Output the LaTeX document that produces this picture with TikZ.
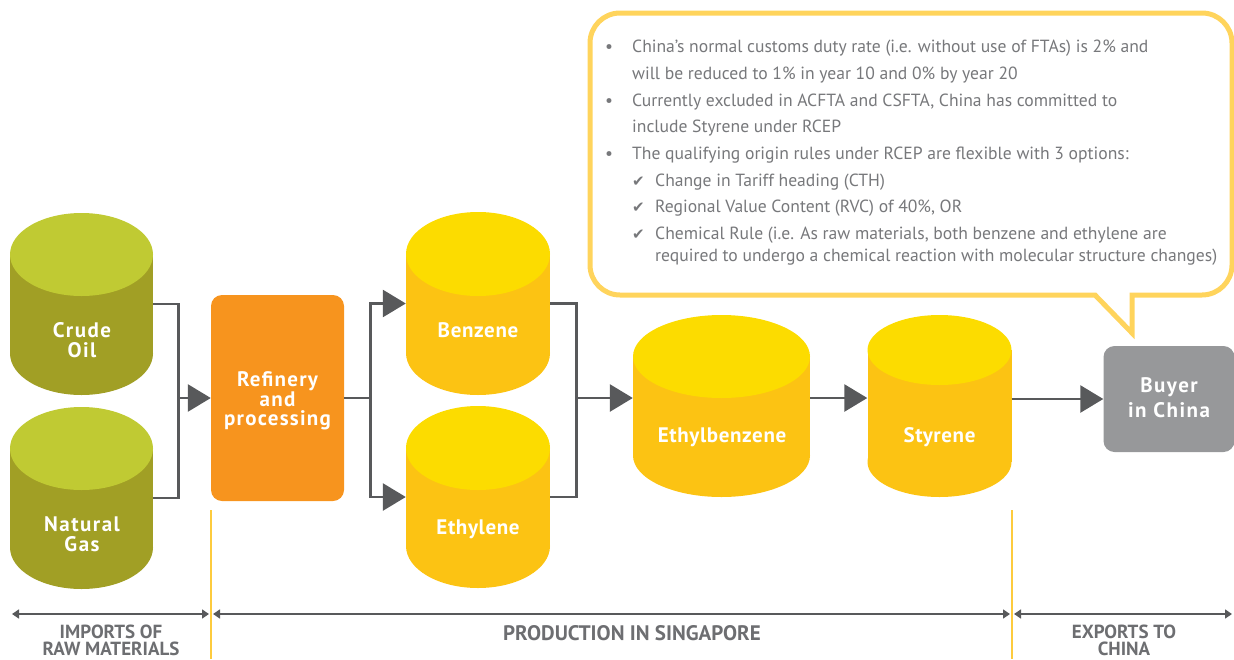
\documentclass[tikz,border=0pt]{standalone}
\usepackage{fontspec}
\setmainfont{PT Sans}
\newfontfamily\dejavu{DejaVu Sans}
\usetikzlibrary{arrows.meta}
\definecolor{olivetop}{HTML}{C0CA33}
\definecolor{olivebody}{HTML}{A19F25}
\definecolor{ytop}{HTML}{FCDC00}
\definecolor{ybody}{HTML}{FCC313}
\definecolor{orng}{HTML}{F7941E}
\definecolor{gbox}{HTML}{97989A}
\definecolor{dgray}{HTML}{58595B}
\definecolor{bub}{HTML}{FFD45C}
\definecolor{txtgray}{HTML}{77787B}
\definecolor{lblgray}{HTML}{6D6E71}
\definecolor{vline}{HTML}{FDCB3E}
\newcommand\mycyl[8]{%
  \fill[#8] ({#2-#5},{#3+#6}) rectangle ({#2+#5},{#4-#6});
  \fill[#8] (#2,{#4-#6}) ellipse [x radius=#5pt, y radius=#6pt];
  \fill[#7] (#2,{#3+#6}) ellipse [x radius=#5pt, y radius=#6pt];
  \node[inner sep=0pt, minimum width=2*#5pt, minimum height=#4pt-#3pt] (#1) at (#2,{(#3+#4)/2}) {};
}
\tikzset{
  clabel/.style={text=white, align=center, inner sep=0pt, font=\fontsize{21}{20}\selectfont\bfseries\addfontfeature{LetterSpace=7}},
  plabel/.style={text=white, align=center, inner sep=0pt, font=\fontsize{21}{21}\selectfont\bfseries\addfontfeature{LetterSpace=3}},
  conn/.style={draw=dgray, line width=2.8pt},
  bigarrow/.style={conn, -{Triangle[length=23pt,width=27pt]}},
  btxt/.style={anchor=base west, inner sep=0pt, text=txtgray, font=\fontsize{17.6}{17.6}\selectfont},
  chk/.style={anchor=base west, inner sep=0pt, text=txtgray, font=\dejavu\fontsize{15}{15}\selectfont},
  bottomarrow/.style={draw=dgray, line width=1.5pt, {Triangle[length=7pt,width=9pt]}-{Triangle[length=7pt,width=9pt]}},
  blabel/.style={anchor=base, text=lblgray, inner sep=0pt, text height=13pt, text depth=0pt, font=\fontsize{19}{17}\selectfont\bfseries},
  vsep/.style={draw=vline, line width=1.3pt}
}
\begin{document}
\begin{tikzpicture}[x=1pt,y=-1pt]
\useasboundingbox (0,0) rectangle (1234,659);
% speech bubble
\draw[draw=bub, line width=5pt, line join=miter, fill=white]
  (1180,295) [rounded corners=30pt] -- (1232,295) -- (1232,13) -- (590,13) -- (590,295)
  [sharp corners] -- (1095,295) -- (1132,333) -- (1132,295) -- cycle;
% bubble text
\node[btxt] (b1) at (605,52) {•};
\node[btxt] (t1) at (632,52) {China’s normal customs duty rate (i.e. without use of FTAs) is 2\% and};
\node[btxt] (t2) at (632,79) {will be reduced to 1\% in year 10 and 0\% by year 20};
\node[btxt] (b2) at (605,106) {•};
\node[btxt] (t3) at (632,106) {Currently excluded in ACFTA and CSFTA, China has committed to};
\node[btxt] (t4) at (632,132) {include Styrene under RCEP};
\node[btxt] (b3) at (605,159) {•};
\node[btxt] (t5) at (632,159) {The qualifying origin rules under RCEP are flexible with 3 options:};
\node[chk] (c1) at (632,186) {✔};
\node[btxt] (t6) at (655,186) {Change in Tariff heading (CTH)};
\node[chk] (c2) at (632,212) {✔};
\node[btxt] (t7) at (655,212) {Regional Value Content (RVC) of 40\%, OR};
\node[chk] (c3) at (632,239) {✔};
\node[btxt] (t8) at (655,239) {Chemical Rule (i.e. As raw materials, both benzene and ethylene are};
\node[btxt] (t9) at (655,261) {required to undergo a chemical reaction with molecular structure changes)};
% cylinders
\mycyl{crude}{81.5}{213}{395}{71.5}{41.5}{olivetop}{olivebody}
\mycyl{gas}{81.5}{407}{589}{71.5}{41.5}{olivetop}{olivebody}
\mycyl{benz}{478}{212}{395}{72}{42}{ytop}{ybody}
\mycyl{ethy}{478}{406}{588}{72}{42}{ytop}{ybody}
\mycyl{ebz}{721.5}{315}{497}{88.5}{41.5}{ytop}{ybody}
\mycyl{sty}{939.5}{315}{497}{72}{35}{ytop}{ybody}
\node[clabel] (lcrude) at (82,340) {Crude\\Oil};
\node[clabel] (lgas) at (82,534.5) {Natural\\Gas};
\node[plabel] (lbenz) at (478,330) {Benzene};
\node[plabel] (lethy) at (478,529) {Ethylene};
\node[plabel] (lebz) at (722,437) {Ethylbenzene};
\node[plabel] (lsty) at (939.5,437) {Styrene};
% boxes
\node[fill=orng, rounded corners=11pt, minimum width=133pt, minimum height=206pt, inner sep=0pt] (refin) at (277.5,398) {};
\node[clabel, font=\fontsize{21}{18.5}\selectfont\bfseries\addfontfeature{LetterSpace=6}] (lrefin) at (277.5,401) {Refinery\\and\\processing};
\node[fill=gbox, rounded corners=11pt, minimum width=131pt, minimum height=106pt, inner sep=0pt] (buyer) at (1169,399) {};
\node[clabel, font=\fontsize{21}{25}\selectfont\bfseries\addfontfeature{LetterSpace=7}] (lbuyer) at (1169,398) {Buyer\\in China};
% connectors
\draw[conn] (crude.east) -- ++(25,0) coordinate (j1) |- (gas.east);
\draw[bigarrow] (j1 |- refin.west) -- (refin.west);
\draw[conn] (refin.east) -- ++(26,0) coordinate (j2);
\draw[bigarrow] (j2) |- (benz.west);
\draw[bigarrow] (j2) |- (ethy.west);
\draw[conn] (benz.east) -- ++(26,0) coordinate (j3) |- (ethy.east);
\draw[bigarrow] (j3 |- refin.east) -- (ebz.west |- refin.east);
\draw[bigarrow] (ebz.east |- refin.east) -- (sty.west |- refin.east);
\draw[bigarrow] (sty.east |- buyer.west) -- (buyer.west);
% bottom
\coordinate (s1) at (211,510);
\coordinate (s1b) at (211,659);
\coordinate (s2) at (1012,510);
\coordinate (s2b) at (1012,659);
\draw[vsep] (s1) -- (s1b);
\draw[vsep] (s2) -- (s2b);
\coordinate (a0) at (12,614);
\coordinate (a1) at (209,614);
\coordinate (a2) at (213,614);
\coordinate (a3) at (1010,614);
\coordinate (a4) at (1014,614);
\coordinate (a5) at (1232,614);
\draw[bottomarrow] (a0) -- (a1);
\draw[bottomarrow] (a2) -- (a3);
\draw[bottomarrow] (a4) -- (a5);
\node[blabel] (limp1) at (111,638) {IMPORTS OF};
\node[blabel] (limp2) at (111,655.5) {RAW MATERIALS};
\node[blabel, font=\fontsize{21}{18}\selectfont\bfseries] (lprod) at (632,640) {PRODUCTION IN SINGAPORE};
\node[blabel] (lexp1) at (1124,638) {EXPORTS TO};
\node[blabel] (lexp2) at (1124,655.5) {CHINA};
\end{tikzpicture}
\end{document}
